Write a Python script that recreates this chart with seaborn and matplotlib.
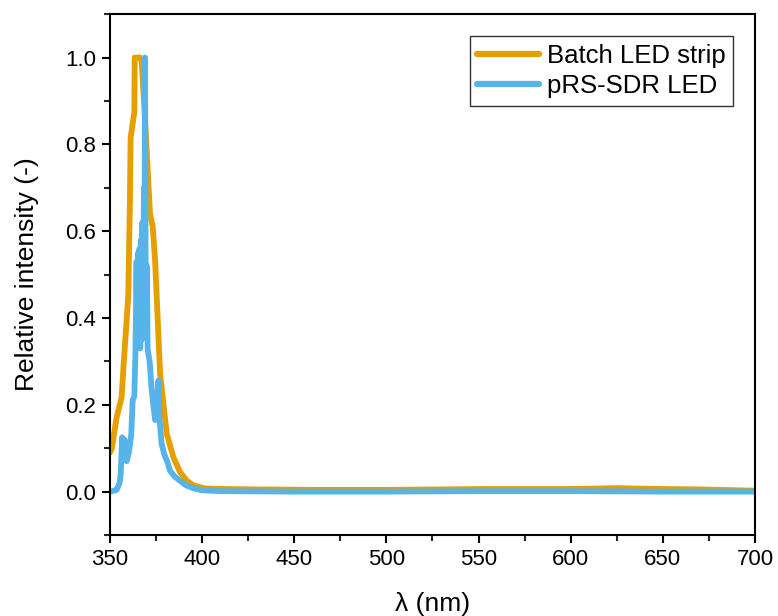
import numpy as np
import pandas as pd
import matplotlib
matplotlib.use("Agg")
import matplotlib.pyplot as plt
from matplotlib.ticker import MultipleLocator, FormatStrFormatter
import seaborn as sns

# Emission spectra (normalised)
batch_wl = [350, 351, 353.6, 356.3, 357.5, 359.9, 360.8, 361.2, 363.2, 363.4, 366.3, 367.2,
            369.5, 371.7, 373.2, 374.5, 377.2, 380.8, 384.4, 388, 391.7, 395, 398.8,
            402, 410, 430, 460, 500, 530, 555, 580, 600, 615, 625, 635, 650, 670, 690, 700]
batch_int = [0.09, 0.10, 0.171, 0.217, 0.30, 0.45, 0.67, 0.816, 0.874, 1.0, 1.0, 0.99,
             0.82, 0.64, 0.61, 0.53, 0.27, 0.133, 0.079, 0.045, 0.025, 0.015, 0.01,
             0.007, 0.006, 0.005, 0.004, 0.004, 0.005, 0.006, 0.006, 0.006, 0.007, 0.008,
             0.007, 0.006, 0.005, 0.003, 0.002]

prs_wl = [350, 352, 353.6, 355.2, 355.8, 356.6, 357.2, 357.8, 359.0, 360.2, 361.5, 362.3,
          363.2, 363.8, 364.4, 364.8, 365.2, 365.6, 366.0, 366.4, 366.8, 367.2, 367.6,
          368.0, 368.4, 368.7, 369.0, 369.3, 369.6, 370.0, 370.4, 370.7, 371.5, 372.5,
          373.5, 374.5, 375.3, 376.3, 376.8, 378.0, 379.5, 381.0, 382.6, 385, 388, 391,
          395, 400, 410, 450, 500, 550, 600, 650, 700]
prs_int = [0.0, 0.002, 0.004, 0.02, 0.04, 0.125, 0.08, 0.12, 0.07, 0.09, 0.13, 0.21,
           0.22, 0.32, 0.53, 0.36, 0.55, 0.34, 0.56, 0.33, 0.58, 0.35, 0.62,
           0.38, 0.70, 0.45, 1.0, 0.55, 0.38, 0.52, 0.33, 0.32, 0.30, 0.24,
           0.20, 0.165, 0.20, 0.256, 0.17, 0.11, 0.085, 0.07, 0.048, 0.035, 0.025, 0.015,
           0.008, 0.003, 0.001, 0.0, 0.0, 0.001, 0.001, 0.0, 0.0]

series_names = ["Batch LED strip", "pRS-SDR LED"]
colors = ["#E69F00", "#56B4E9"]

sns.set_style("ticks")
plt.rcParams["font.family"] = ["Liberation Sans", "DejaVu Sans"]
plt.rcParams["text.color"] = "black"
plt.rcParams["axes.labelcolor"] = "black"

fig = plt.figure(figsize=(7.78, 6.16), dpi=100)
ax = fig.add_axes([0.1414, 0.1315, 0.829, 0.8455])

df_batch = pd.DataFrame({"wl": batch_wl, "I": batch_int})
df_prs = pd.DataFrame({"wl": prs_wl, "I": prs_int})

sns.lineplot(data=df_batch, x="wl", y="I", ax=ax, color=colors[0], lw=4.2,
             label=series_names[0], sort=False)
sns.lineplot(data=df_prs, x="wl", y="I", ax=ax, color=colors[1], lw=4.2,
             label=series_names[1], sort=False)

ax.set_xlim(350, 700)
ax.set_ylim(-0.1, 1.1)
ax.xaxis.set_major_locator(MultipleLocator(50))
ax.xaxis.set_minor_locator(MultipleLocator(25))
ax.yaxis.set_minor_locator(MultipleLocator(0.1))
ax.set_yticks(np.arange(0, 1.01, 0.2))
ax.yaxis.set_major_formatter(FormatStrFormatter("%.1f"))

for s in ax.spines.values():
    s.set_visible(True)
    s.set_linewidth(1.5)
    s.set_color("black")
ax.tick_params(which="major", direction="out", length=6, width=1.5, labelsize=16,
               colors="black", labelcolor="black", pad=4)
ax.tick_params(which="minor", direction="out", length=4, width=1.5)
ax.tick_params(top=False, right=False, which="both")

ax.set_xlabel("λ (nm)", fontsize=19, labelpad=16)
ax.set_ylabel("Relative intensity (-)", fontsize=19, labelpad=19)

leg = ax.legend(loc="upper right", fontsize=18.5, frameon=True, fancybox=False,
                handlelength=2.4, borderaxespad=0.85, handletextpad=0.3,
                labelspacing=0.25, borderpad=0.3)
leg.get_frame().set_edgecolor("black")
leg.get_frame().set_linewidth(1.0)
for line in leg.get_lines():
    line.set_linewidth(4.5)

fig.savefig("out.png", dpi=100)
